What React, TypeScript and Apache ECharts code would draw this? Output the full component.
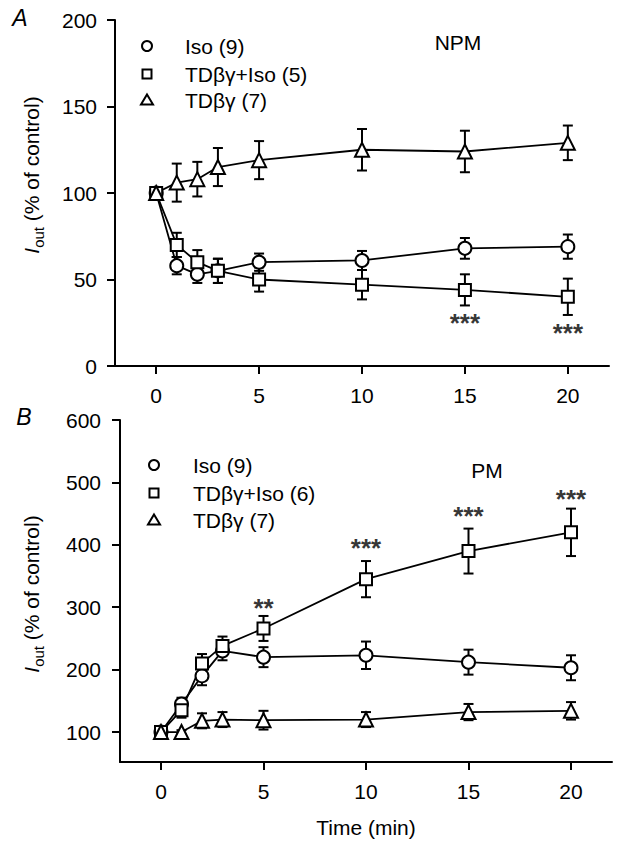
import React, { useEffect, useRef } from "react";
import * as echarts from "echarts";

// ---- data ----
const times = [0, 1, 2, 3, 5, 10, 15, 20];
const xTicks = [0, 5, 10, 15, 20];
const yTicksA = [0, 50, 100, 150, 200];
const yTicksB = [100, 200, 300, 400, 500, 600];

// Panel A (NPM)
const isoA = [100, 58, 53, 55, 60, 61, 68, 69];
const isoAErr = [0, 5, 5, 7, 5, 5.5, 6, 7];
const tdIsoA = [100, 70, 60, 55, 50, 47, 44, 40];
const tdIsoAErr = [0, 7, 7, 7, 7, 8.5, 9, 10.5];
const tdA = [100, 106, 108, 115, 119, 125, 124, 129];
const tdAErr = [0, 11, 10, 11, 11, 12, 12, 10];

// Panel B (PM)
const isoB = [100, 145, 190, 230, 220, 223, 212, 203];
const isoBErr = [0, 10, 15, 15, 16, 22, 20, 20];
const tdIsoB = [100, 135, 210, 238, 266, 345, 390, 420];
const tdIsoBErr = [0, 12, 15, 15, 20, 29, 36, 38];
const tdB = [100, 100, 118, 120, 119, 120, 132, 134];
const tdBErr = [0, 3, 12, 12, 15, 12, 13, 14];

// significance marks
const starTimesA = [15, 20];
const starValsA = [25, 19];
const starTextA = ["***", "***"];
const starTimesB = [5, 10, 15, 20];
const starValsB = [299, 395, 446, 473];
const starTextB = ["**", "***", "***", "***"];

const legendA = ["Iso (9)", "TDβγ+Iso (5)", "TDβγ (7)"];
const legendB = ["Iso (9)", "TDβγ+Iso (6)", "TDβγ (7)"];

const FONT = '"Liberation Sans", Arial, Helvetica, sans-serif';
const FS = 21;

function lineSeries(name: string, vals: number[], symbol: string, size: number, axis: number) {
  return {
    type: "line",
    name,
    xAxisIndex: axis,
    yAxisIndex: axis,
    data: times.map((t, i) => [t, vals[i]]),
    symbol,
    symbolSize: size,
    showAllSymbol: true,
    lineStyle: { color: "#000", width: 1.8 },
    itemStyle: { color: "#fff", borderColor: "#000", borderWidth: 2 },
    z: 3,
    silent: true,
  };
}

function errSeries(vals: number[], errs: number[], axis: number) {
  return {
    type: "custom",
    xAxisIndex: axis,
    yAxisIndex: axis,
    data: times.map((t, i) => [t, vals[i] - errs[i], vals[i] + errs[i]]),
    encode: { x: 0, y: [1, 2] },
    z: 2,
    silent: true,
    renderItem: (params: any, api: any) => {
      const x = api.value(0);
      const lo = api.coord([x, api.value(1)]);
      const hi = api.coord([x, api.value(2)]);
      if (Math.abs(lo[1] - hi[1]) < 1) return { type: "group", children: [] };
      const w = 5;
      const st = { stroke: "#000", lineWidth: 2 };
      return {
        type: "group",
        children: [
          { type: "line", shape: { x1: lo[0], y1: lo[1], x2: hi[0], y2: hi[1] }, style: st },
          { type: "line", shape: { x1: lo[0] - w, y1: lo[1], x2: lo[0] + w, y2: lo[1] }, style: st },
          { type: "line", shape: { x1: hi[0] - w, y1: hi[1], x2: hi[0] + w, y2: hi[1] }, style: st },
        ],
      };
    },
  };
}

function starSeries(ts: number[], vs: number[], txt: string[], axis: number) {
  return {
    type: "scatter",
    xAxisIndex: axis,
    yAxisIndex: axis,
    symbolSize: 0,
    silent: true,
    itemStyle: { color: "#000" },
    data: ts.map((t, i) => ({ value: [t, vs[i]], label: { formatter: txt[i] } })),
    label: {
      show: true,
      position: "inside",
      color: "#000",
      fontSize: 26,
      fontWeight: "bold",
      fontFamily: FONT,
      textBorderWidth: 0,
    },
    z: 4,
  };
}

function legendGraphic(names: string[], mx: number, tx: number, ys: number[]) {
  const st = { fill: "#fff", stroke: "#000", lineWidth: 2 };
  const children: any[] = [];
  children.push({ type: "circle", shape: { cx: mx, cy: ys[0], r: 5 }, style: st });
  children.push({ type: "rect", shape: { x: mx - 4.5, y: ys[1] - 4.5, width: 9, height: 9 }, style: st });
  children.push({
    type: "polygon",
    shape: { points: [[mx, ys[2] - 5.5], [mx + 6, ys[2] + 4.5], [mx - 6, ys[2] + 4.5]] },
    style: st,
  });
  names.forEach((n, i) => {
    children.push({
      type: "text",
      x: tx,
      y: ys[i],
      style: { text: n, fontSize: FS, fontFamily: FONT, fill: "#000", align: "left", verticalAlign: "middle" },
    });
  });
  return children;
}

function yTitle(x: number, y: number) {
  return {
    type: "text",
    x,
    y,
    rotation: Math.PI / 2,
    style: {
      text: "{i|I}{s|out}{n| (% of control)}",
      align: "center",
      verticalAlign: "middle",
      fill: "#000",
      rich: {
        i: { fontSize: FS, fontStyle: "italic", fontFamily: FONT, verticalAlign: "bottom", padding: [0, 0, 4, 0] },
        s: { fontSize: 15, fontFamily: FONT, verticalAlign: "bottom", padding: [0, 0, 0, 0] },
        n: { fontSize: FS, fontFamily: FONT, verticalAlign: "bottom", padding: [0, 0, 4, 0] },
      },
    },
  };
}

export default function App() {
  const ref = useRef<HTMLDivElement>(null);
  useEffect(() => {
    document.body.style.margin = "0";
    if (!ref.current) return;
    const chart = echarts.init(ref.current, null, { renderer: "svg" });
    const axisLineStyle = { color: "#000", width: 2 };
    const label = { color: "#000", fontSize: FS, fontFamily: FONT };
    const xAxisCommon = (idx: number) => ({
      type: "value",
      gridIndex: idx,
      min: -2,
      max: 22,
      splitLine: { show: false },
      axisLine: { show: true, onZero: false, lineStyle: axisLineStyle },
      axisTick: { show: true, length: 8, lineStyle: { color: "#000", width: 2 }, customValues: xTicks },
      axisLabel: { ...label, margin: 19, customValues: xTicks },
    });
    const option: any = {
      animation: false,
      backgroundColor: "#fff",
      grid: [
        { left: 115, top: 20, width: 494, height: 346 },
        { left: 120, top: 420, width: 492, height: 342 },
      ],
      xAxis: [
        xAxisCommon(0),
        {
          ...xAxisCommon(1),
          name: "Time (min)",
          nameLocation: "middle",
          nameGap: 55,
          nameTextStyle: { color: "#000", fontSize: FS, fontFamily: FONT },
        },
      ],
      yAxis: [
        {
          type: "value",
          gridIndex: 0,
          min: 0,
          max: 200,
          splitLine: { show: false },
          axisLine: { show: true, onZero: false, lineStyle: axisLineStyle },
          axisTick: { show: true, length: 8, lineStyle: { color: "#000", width: 2 }, customValues: yTicksA },
          axisLabel: { ...label, margin: 18, customValues: yTicksA },
        },
        {
          type: "value",
          gridIndex: 1,
          min: 52,
          max: 600,
          splitLine: { show: false },
          axisLine: { show: true, onZero: false, lineStyle: axisLineStyle },
          axisTick: { show: true, length: 8, lineStyle: { color: "#000", width: 2 }, customValues: yTicksB },
          axisLabel: { ...label, margin: 19, customValues: yTicksB },
        },
      ],
      series: [
        errSeries(isoA, isoAErr, 0),
        errSeries(tdIsoA, tdIsoAErr, 0),
        errSeries(tdA, tdAErr, 0),
        lineSeries(legendA[0], isoA, "circle", 13, 0),
        lineSeries(legendA[1], tdIsoA, "rect", 12, 0),
        lineSeries(legendA[2], tdA, "triangle", 14, 0),
        starSeries(starTimesA, starValsA, starTextA, 0),
        errSeries(isoB, isoBErr, 1),
        errSeries(tdIsoB, tdIsoBErr, 1),
        errSeries(tdB, tdBErr, 1),
        lineSeries(legendB[0], isoB, "circle", 13, 1),
        lineSeries(legendB[1], tdIsoB, "rect", 12, 1),
        lineSeries(legendB[2], tdB, "triangle", 14, 1),
        starSeries(starTimesB, starValsB, starTextB, 1),
      ],
      graphic: [
        ...legendGraphic(legendA, 147, 185, [46, 74, 100]),
        ...legendGraphic(legendB, 154, 193, [465, 493, 520]),
        {
          type: "text", x: 458, y: 42,
          style: { text: "NPM", fontSize: FS, fontFamily: FONT, fill: "#000", align: "center", verticalAlign: "middle" },
        },
        {
          type: "text", x: 487, y: 470,
          style: { text: "PM", fontSize: FS, fontFamily: FONT, fill: "#000", align: "center", verticalAlign: "middle" },
        },
        {
          type: "text", x: 20, y: 18,
          style: { text: "A", fontSize: 23, fontStyle: "italic", fontFamily: FONT, fill: "#000", align: "center", verticalAlign: "middle" },
        },
        {
          type: "text", x: 24, y: 417,
          style: { text: "B", fontSize: 23, fontStyle: "italic", fontFamily: FONT, fill: "#000", align: "center", verticalAlign: "middle" },
        },
        yTitle(33, 175),
        yTitle(33, 594),
      ],
    };
    chart.setOption(option);
    return () => chart.dispose();
  }, []);
  return <div ref={ref} style={{ width: 621, height: 852 }} />;
}
